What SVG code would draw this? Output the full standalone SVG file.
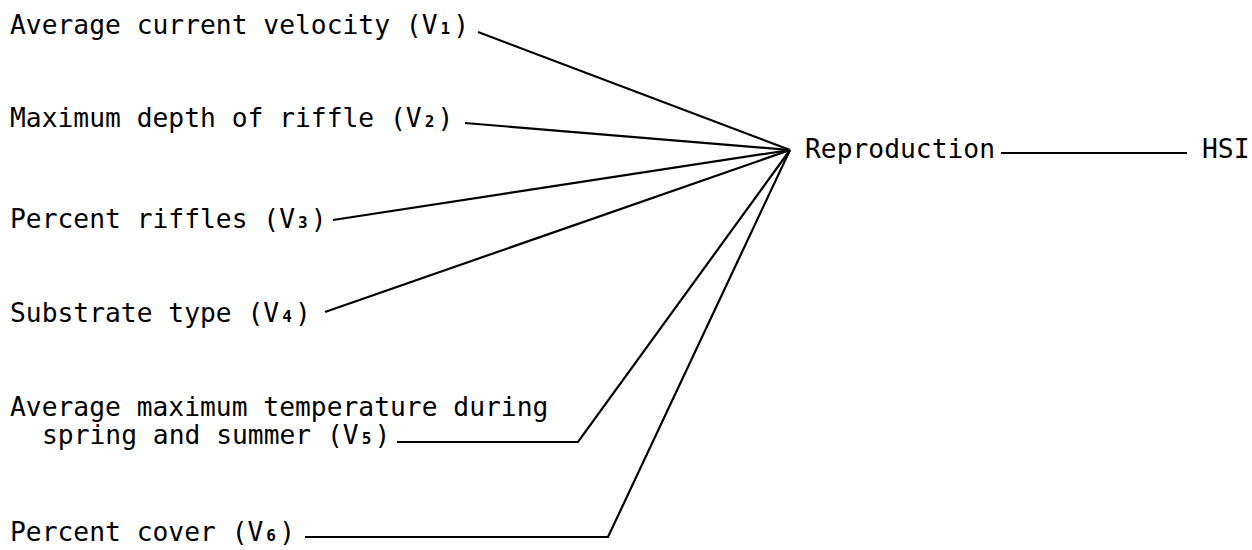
<svg xmlns="http://www.w3.org/2000/svg" width="1252" height="550" viewBox="0 0 1252 550">
<style>
text{font-family:"DejaVu Sans Mono","Liberation Mono",monospace;font-size:26.3px;fill:#000}
.s{font-size:16px;font-weight:bold}
.c{fill:none;stroke:#000;stroke-width:2.2;stroke-linejoin:miter}
</style>
<rect width="1252" height="550" fill="#fff"/>
<g id="connectors">
<path class="c" d="M478 32L790 150"/>
<path class="c" d="M465 123L790 150"/>
<path class="c" d="M333 220L790 150"/>
<path class="c" d="M325 312L790 150"/>
<path class="c" d="M397 442H578L790 150"/>
<path class="c" d="M305 537H608L790 150"/>
<path class="c" d="M1001 153H1187"/>
</g>
<g id="v1"><text x="10" y="34">Average current velocity (V<tspan class="s" dx="3">1</tspan><tspan dx="3.2">)</tspan></text></g>
<g id="v2"><text x="10" y="127">Maximum depth of riffle (V<tspan class="s" dx="3">2</tspan><tspan dx="3.2">)</tspan></text></g>
<g id="v3"><text x="10" y="228">Percent riffles (V<tspan class="s" dx="3">3</tspan><tspan dx="3.2">)</tspan></text></g>
<g id="v4"><text x="10" y="322">Substrate type (V<tspan class="s" dx="3">4</tspan><tspan dx="3.2">)</tspan></text></g>
<g id="v5"><text x="10" y="416">Average maximum temperature during<tspan x="42" y="444">spring and summer (V</tspan><tspan class="s" dx="3">5</tspan><tspan dx="3.2">)</tspan></text></g>
<g id="v6"><text x="10" y="541">Percent cover (V<tspan class="s" dx="3">6</tspan><tspan dx="3.2">)</tspan></text></g>
<g id="reproduction"><text x="805" y="158">Reproduction</text></g>
<g id="hsi"><text x="1202" y="158">HSI</text></g>
</svg>
